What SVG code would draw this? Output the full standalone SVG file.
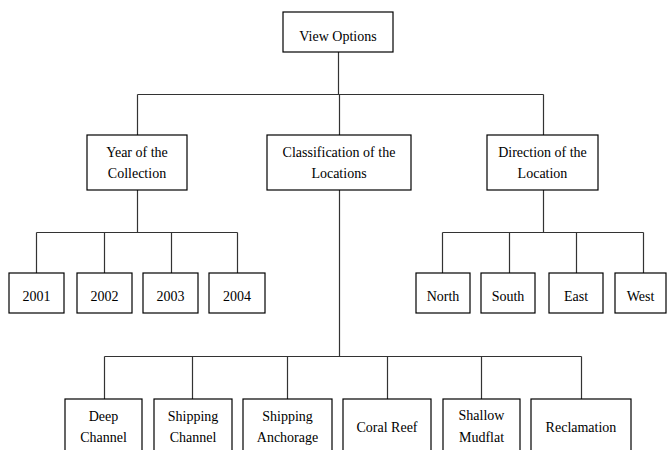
<svg xmlns="http://www.w3.org/2000/svg" width="667" height="450" viewBox="0 0 667 450">
<style>
.box{fill:#fff;stroke:#000;stroke-width:1.2}
.c{fill:none;stroke:#333;stroke-width:1.2}
text{font-family:"Liberation Serif","Times New Roman",serif;font-size:14px;fill:#000;text-anchor:middle}
</style>
<rect width="667" height="450" fill="#fff"/>
<g id="connectors">
<path class="c" d="M338.5 52V94.5M137.5 94.5H543.5M137.5 94.5V135M339.5 94.5V135M543.5 94.5V135"/>
<path class="c" d="M137.5 190V232.5M36.5 232.5H237.5M36.5 232.5V273M104.5 232.5V273M171.5 232.5V273M237.5 232.5V273"/>
<path class="c" d="M543.5 190V232.5M442.5 232.5H643.5M442.5 232.5V273M509.5 232.5V273M576.5 232.5V273M643.5 232.5V273"/>
<path class="c" d="M339.5 190V356.5M104.5 356.5H581.5M104.5 356.5V399M192.5 356.5V399M287.5 356.5V399M387.5 356.5V399M481.5 356.5V399M581.5 356.5V399"/>
</g>
<g id="view-options"><rect class="box" x="283" y="12" width="110" height="40"/><text x="338" y="41">View Options</text></g>
<g id="year"><rect class="box" x="87" y="135" width="100" height="55"/><text x="137" y="157">Year of the</text><text x="137" y="178">Collection</text></g>
<g id="classification"><rect class="box" x="267" y="135" width="144" height="55"/><text x="339" y="157">Classification of the</text><text x="339" y="178">Locations</text></g>
<g id="direction"><rect class="box" x="487" y="135" width="111" height="55"/><text x="542.5" y="157">Direction of the</text><text x="542.5" y="178">Location</text></g>
<g id="y2001"><rect class="box" x="9" y="273" width="55" height="40"/><text x="36.5" y="301">2001</text></g>
<g id="y2002"><rect class="box" x="77" y="273" width="55" height="40"/><text x="104.5" y="301">2002</text></g>
<g id="y2003"><rect class="box" x="143" y="273" width="55" height="40"/><text x="170.5" y="301">2003</text></g>
<g id="y2004"><rect class="box" x="209" y="273" width="56" height="40"/><text x="237" y="301">2004</text></g>
<g id="north"><rect class="box" x="416" y="273" width="54" height="40"/><text x="443" y="301">North</text></g>
<g id="south"><rect class="box" x="481" y="273" width="54" height="40"/><text x="508" y="301">South</text></g>
<g id="east"><rect class="box" x="549" y="273" width="54" height="40"/><text x="576" y="301">East</text></g>
<g id="west"><rect class="box" x="615" y="273" width="51" height="40"/><text x="640.5" y="301">West</text></g>
<g id="deep-channel"><rect class="box" x="65" y="399" width="77" height="70"/><text x="103.5" y="421">Deep</text><text x="103.5" y="442">Channel</text></g>
<g id="shipping-channel"><rect class="box" x="154" y="399" width="78" height="70"/><text x="193" y="421">Shipping</text><text x="193" y="442">Channel</text></g>
<g id="shipping-anchorage"><rect class="box" x="243" y="399" width="89" height="70"/><text x="287.5" y="421">Shipping</text><text x="287.5" y="442">Anchorage</text></g>
<g id="coral-reef"><rect class="box" x="343" y="399" width="88" height="70"/><text x="387" y="432">Coral Reef</text></g>
<g id="shallow-mudflat"><rect class="box" x="443" y="399" width="77" height="70"/><text x="481.5" y="420">Shallow</text><text x="481.5" y="442">Mudflat</text></g>
<g id="reclamation"><rect class="box" x="531" y="399" width="100" height="70"/><text x="581" y="432">Reclamation</text></g>
</svg>
